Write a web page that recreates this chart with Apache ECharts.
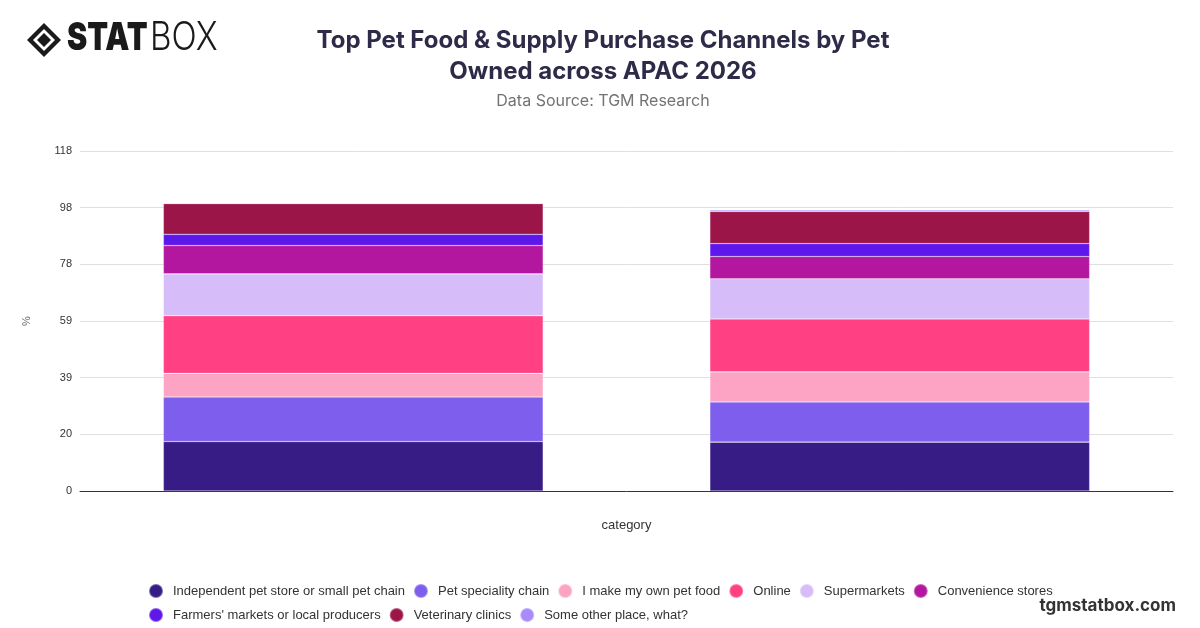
<!DOCTYPE html>
<html>
<head>
<meta charset="utf-8">
<script src="https://cdn.jsdelivr.net/npm/echarts@6/dist/echarts.min.js"></script>
<style>html,body{margin:0;padding:0;background:#fff}#c{width:1200px;height:628px}</style>
</head>
<body>
<div id="c"></div>
<script>
const categories = ['Cat', 'Dog'];
const seriesNames = ['Independent pet store or small pet chain','Pet speciality chain','I make my own pet food','Online','Supermarkets','Convenience stores',"Farmers' markets or local producers",'Veterinary clinics','Some other place, what?'];
const independent = [17.1, 16.9];
const speciality = [15.4, 13.9];
const ownFood = [8.2, 10.4];
const online = [19.9, 18.3];
const supermarkets = [14.5, 13.9];
const convenience = [9.8, 7.7];
const farmers = [3.9, 4.5];
const veterinary = [10.6, 11.1];
const otherPlace = [0.3, 0.5];
const yTicks = [0, 20, 39, 59, 78, 98, 118];

const colors = ['#371c86','#7e5eed','#fda3c3','#ff4083','#d6bdfa','#b3179f','#5e17eb','#9b1549','#a78bfa'];
const values = [independent, speciality, ownFood, online, supermarkets, convenience, farmers, veterinary, otherPlace];
const FONT = 'Inter, "Noto Sans", sans-serif';
const SANS = '"Liberation Sans", Arial, sans-serif';

const chart = echarts.init(document.getElementById('c'));
chart.setOption({
  animation: false,
  color: colors,
  textStyle: { fontFamily: SANS },
  title: [{
    text: 'Top Pet Food & Supply Purchase Channels by Pet\nOwned across APAC 2026',
    left: 598, top: 20, textAlign: 'center',
    textStyle: { fontSize: 24, fontWeight: 'bold', color: '#2e2b48', lineHeight: 31, fontFamily: FONT },
    subtext: 'Data Source: TGM Research',
    subtextStyle: { fontSize: 16, color: '#737373', fontFamily: FONT },
    itemGap: 6
  }],
  graphic: [
    { type: 'group', left: 27, top: 23, children: [
      { type: 'polygon', shape: { points: [[16,0],[33,17],[16,34],[-1,17]] }, style: { fill: '#1a1a1a' } },
      { type: 'polygon', shape: { points: [[16,6],[27,17],[16,28],[5,17]] }, style: { fill: '#fff' } },
      { type: 'polygon', shape: { points: [[16,10],[23,17],[16,24],[9,17]] }, style: { fill: '#1a1a1a' } }
    ]},
    { type: 'text', x: 67, y: 19, scaleX: 0.78, style: { text: 'STAT', font: '900 39px ' + FONT, fill: '#1a1a1a' } },
    { type: 'text', x: 150, y: 19, scaleX: 0.85, style: { text: 'BOX', font: '300 39px ' + FONT, fill: '#1a1a1a' } },
    { type: 'text', right: 24, top: 597, style: { text: 'tgmstatbox.com', font: 'bold 17px ' + FONT, fill: '#333333' } }
  ],
  legend: {
    left: 143, top: 578, width: 960,
    itemWidth: 24, itemHeight: 14, itemGap: 8,
    icon: 'circle',
    textStyle: { fontSize: 13, color: '#333', fontFamily: SANS },
    data: seriesNames
  },
  grid: { left: 80, right: 27, top: 151, bottom: 137, containLabel: false },
  xAxis: {
    type: 'category', data: categories,
    name: 'category', nameLocation: 'middle', nameGap: 28,
    nameTextStyle: { fontSize: 13, color: '#333', fontFamily: SANS },
    axisLabel: { show: false },
    axisTick: { show: false },
    axisLine: { lineStyle: { color: '#333', width: 1 } }
  },
  yAxis: {
    type: 'value', min: 0, max: 117.6, interval: 19.6,
    name: '%', nameLocation: 'middle', nameGap: 48, nameRotate: 90,
    nameTextStyle: { fontSize: 11, color: '#666' },
    axisLabel: { fontSize: 11, color: '#333', formatter: v => String(Math.round(v)) },
    splitLine: { lineStyle: { color: '#e0e0e0' } },
    axisLine: { show: false }, axisTick: { show: false }
  },
  series: values.map((arr, i) => ({
    name: seriesNames[i], type: 'bar', stack: 'total', data: arr,
    barCategoryGap: '30.5%',
    itemStyle: { borderColor: 'rgba(255,255,255,0.35)', borderWidth: 0.6 }
  }))
});
</script>
</body>
</html>
